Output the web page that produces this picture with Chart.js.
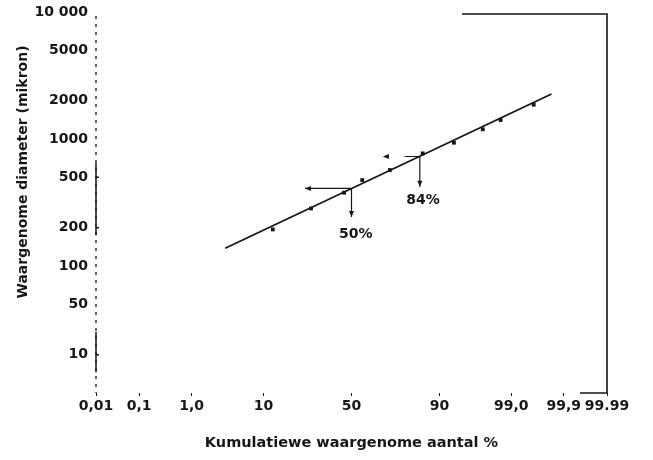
<!DOCTYPE html>
<html>
<head>
<meta charset="utf-8">
<script src="https://cdn.jsdelivr.net/npm/chart.js@4/dist/chart.umd.min.js"></script>
<style>
  body { margin: 0; background: #fff; }
  #wrap { width: 653px; height: 460px; }
</style>
</head>
<body>
<div id="wrap"><canvas id="probChart"></canvas></div>
<script>
// Gemeten punte (kumulatiewe % teen diameter in mikron)
const pointPct = [12.6, 27.8, 45.7, 56.2, 71.2, 85.0, 93.2, 97.2, 98.5, 99.6];
const pointDiam = [194, 284, 378, 475, 570, 771, 935, 1192, 1411, 1862];

// Reguitlyn deur die punte
const fitPct = [3.3, 99.82];
const fitDiam = [138, 2260];

// Merkpunte 50% en 84%
const markLabels = ['50%', '84%'];
const markPct = [50, 84];
const markDiam = [408, 728];
const markDownTo = [243, 421];
const markLineTo = [24.9, 78];
const markLeftTo = [24.9, 67.6];
const markLabelPct = [52.5, 85.1];
const markLabelDiam = [179, 331];

// As-etikette
const xTickPct = [0.01, 0.1, 1, 10, 50, 90, 99, 99.9, 99.99];
const xTickLabels = ['0,01', '0,1', '1,0', '10', '50', '90', '99,0', '99,9', '99.99'];
const yTickValues = [10000, 5000, 2000, 1000, 500, 200, 100, 50, 20];
const yTickLabels = ['10 000', '5000', '2000', '1000', '500', '200', '100', '50', '10'];

const ink = '#161616';
const fontFam = '"DejaVu Sans", Arial, sans-serif';

// inverse normale verdeling (Acklam) vir die waarskynlikheidskaal
function probit(p) {
    const a = [-39.69683028665376, 220.9460984245205, -275.9285104469687, 138.3577518672690, -30.66479806614716, 2.506628277459239];
    const b = [-54.47609879822406, 161.5858368580409, -155.6989798598866, 66.80131188771972, -13.28068155288572];
    const c = [-0.007784894002430293, -0.3223964580411365, -2.400758277161838, -2.549732539343734, 4.374664141464968, 2.938163982698783];
    const d = [0.007784695709041462, 0.3224671290700398, 2.445134137142996, 3.754408661907416];
    const lo = 0.02425;
    let q, r;
    if (p < lo) {
        q = Math.sqrt(-2 * Math.log(p));
        return (((((c[0]*q+c[1])*q+c[2])*q+c[3])*q+c[4])*q+c[5]) / ((((d[0]*q+d[1])*q+d[2])*q+d[3])*q+1);
    }
    if (p > 1 - lo) {
        q = Math.sqrt(-2 * Math.log(1 - p));
        return -(((((c[0]*q+c[1])*q+c[2])*q+c[3])*q+c[4])*q+c[5]) / ((((d[0]*q+d[1])*q+d[2])*q+d[3])*q+1);
    }
    q = p - 0.5;
    r = q * q;
    return (((((a[0]*r+a[1])*r+a[2])*r+a[3])*r+a[4])*r+a[5])*q / (((((b[0]*r+b[1])*r+b[2])*r+b[3])*r+b[4])*r+1);
}
const px = pct => probit(pct / 100);

// lyne, pyltjies en y-titel
const extras = {
    id: 'extras',
    afterDatasetsDraw(chart) {
        const ctx = chart.ctx;
        const xs = chart.scales.x, ys = chart.scales.y;
        const area = chart.chartArea;
        const X = p => xs.getPixelForValue(px(p));
        const Y = v => ys.getPixelForValue(v);
        ctx.save();
        ctx.strokeStyle = ink;
        ctx.fillStyle = ink;

        // raam regs bo
        ctx.lineWidth = 1.6;
        ctx.beginPath();
        ctx.moveTo(X(94.6), area.top + 2);
        ctx.lineTo(area.right, area.top + 2);
        ctx.lineTo(area.right, area.bottom);
        ctx.lineTo(X(99.956), area.bottom);
        ctx.stroke();

        // linker as: stippel met soliede stukke
        ctx.lineWidth = 1.3;
        ctx.setLineDash([3, 5]);
        ctx.beginPath();
        ctx.moveTo(area.left, area.top + 4);
        ctx.lineTo(area.left, area.bottom);
        ctx.stroke();
        ctx.setLineDash([]);
        ctx.lineWidth = 1.5;
        [[175, 647], [14.6, 30.2]].forEach(([a, b]) => {
            ctx.beginPath();
            ctx.moveTo(area.left, Y(a));
            ctx.lineTo(area.left, Y(b));
            ctx.stroke();
        });
        [500, 200, 20].forEach(v => {
            ctx.beginPath();
            ctx.moveTo(area.left, Y(v));
            ctx.lineTo(area.left + 3, Y(v));
            ctx.stroke();
        });

        // pyltjies
        ctx.lineWidth = 1.2;
        const head = (x, y, dir) => {
            ctx.beginPath();
            if (dir === 'down') {
                ctx.moveTo(x, y); ctx.lineTo(x - 2.5, y - 6); ctx.lineTo(x + 2.5, y - 6);
            } else {
                ctx.moveTo(x, y); ctx.lineTo(x + 6, y - 2.5); ctx.lineTo(x + 6, y + 2.5);
            }
            ctx.closePath();
            ctx.fill();
        };
        markPct.forEach((p, i) => {
            const x0 = X(p), y0 = Y(markDiam[i]);
            ctx.beginPath();
            ctx.moveTo(x0, y0);
            ctx.lineTo(x0, Y(markDownTo[i]));
            ctx.moveTo(x0, y0);
            ctx.lineTo(X(markLineTo[i]), y0);
            ctx.stroke();
            head(x0, Y(markDownTo[i]), 'down');
            head(X(markLeftTo[i]), y0, 'left');
            ctx.font = 'bold 14px ' + fontFam;
            ctx.textAlign = 'center';
            ctx.textBaseline = 'middle';
            ctx.fillText(markLabels[i], X(markLabelPct[i]), Y(markLabelDiam[i]));
        });

        // y-titel
        ctx.translate(23, 172);
        ctx.rotate(-Math.PI / 2);
        ctx.font = 'bold 14px ' + fontFam;
        ctx.textAlign = 'center';
        ctx.textBaseline = 'middle';
        ctx.fillText('Waargenome diameter (mikron)', 0, 0);
        ctx.restore();
    }
};

const ctx = document.getElementById('probChart').getContext('2d');
new Chart(ctx, {
    type: 'scatter',
    data: {
        datasets: [{
            label: 'lyn',
            data: fitPct.map((p, i) => ({ x: px(p), y: fitDiam[i] })),
            showLine: true,
            borderColor: ink,
            borderWidth: 1.8,
            pointRadius: 0
        }, {
            label: 'punte',
            data: pointPct.map((p, i) => ({ x: px(p), y: pointDiam[i] })),
            pointStyle: 'rect',
            pointRadius: 2.7,
            backgroundColor: ink,
            borderColor: ink,
            borderWidth: 0
        }]
    },
    options: {
        responsive: true,
        maintainAspectRatio: false,
        animation: false,
        layout: { padding: { left: 0, right: 46, top: 12, bottom: 0 } },
        plugins: {
            legend: { display: false },
            tooltip: { enabled: false }
        },
        scales: {
            x: {
                type: 'linear',
                min: px(0.01),
                max: px(99.99),
                afterFit: s => { s.height = 67; },
                afterBuildTicks: s => { s.ticks = xTickPct.map(p => ({ value: px(p) })); },
                border: { display: false },
                grid: { drawOnChartArea: false, drawTicks: true, tickLength: 3, color: ink },
                ticks: {
                    autoSkip: false,
                    maxRotation: 0,
                    padding: 2,
                    color: ink,
                    font: { family: fontFam, size: 14, weight: 'bold' },
                    callback: (v, i) => xTickLabels[i]
                },
                title: {
                    display: true,
                    text: 'Kumulatiewe waargenome aantal %',
                    color: ink,
                    font: { family: fontFam, size: 14.5, weight: 'bold' },
                    padding: { top: 0, bottom: 8 }
                }
            },
            y: {
                type: 'logarithmic',
                min: 10,
                max: 10000,
                afterFit: s => { s.width = 96; },
                afterBuildTicks: s => { s.ticks = yTickValues.map(v => ({ value: v })); },
                border: { display: false },
                grid: { display: false },
                ticks: {
                    autoSkip: false,
                    padding: 0,
                    color: ink,
                    font: { family: fontFam, size: 14, weight: 'bold' },
                    callback: (v, i) => yTickLabels[i]
                }
            }
        }
    },
    plugins: [extras]
});
</script>
</body>
</html>
